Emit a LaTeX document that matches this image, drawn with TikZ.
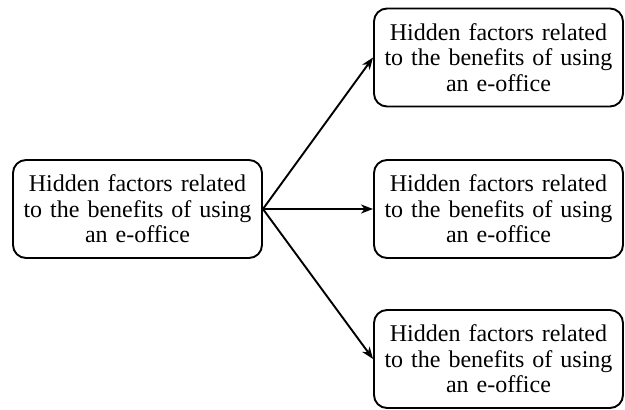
\documentclass[tikz,border=0pt]{standalone}
\usepackage{fontspec}
\setmainfont{Liberation Serif}
\usetikzlibrary{arrows.meta}
\begin{document}
\begin{tikzpicture}[x=1pt,y=-1pt,
  box/.style={draw, line width=1.9pt, rounded corners=13pt, minimum width=249pt, minimum height=98pt,
    align=center, text width=244pt, inner sep=0pt, font=\fontsize{24}{25.5}\selectfont},
  conn/.style={line width=1.9pt, -{Stealth[length=12pt,width=9pt,inset=3.5pt]}}]
\useasboundingbox (0,0) rectangle (625,410);
\node[box] (L) at (137.5,209) {Hidden factors related\\to the benefits of using\\an e-office};
\node[box] (T) at (498.5,57.5) {Hidden factors related\\to the benefits of using\\an e-office};
\node[box] (M) at (498.5,209) {Hidden factors related\\to the benefits of using\\an e-office};
\node[box] (B) at (498.5,359) {Hidden factors related\\to the benefits of using\\an e-office};
\draw[conn] (L.east) -- (T.west);
\draw[conn] (L.east) -- (M.west);
\draw[conn] (L.east) -- (B.west);
\end{tikzpicture}
\end{document}
